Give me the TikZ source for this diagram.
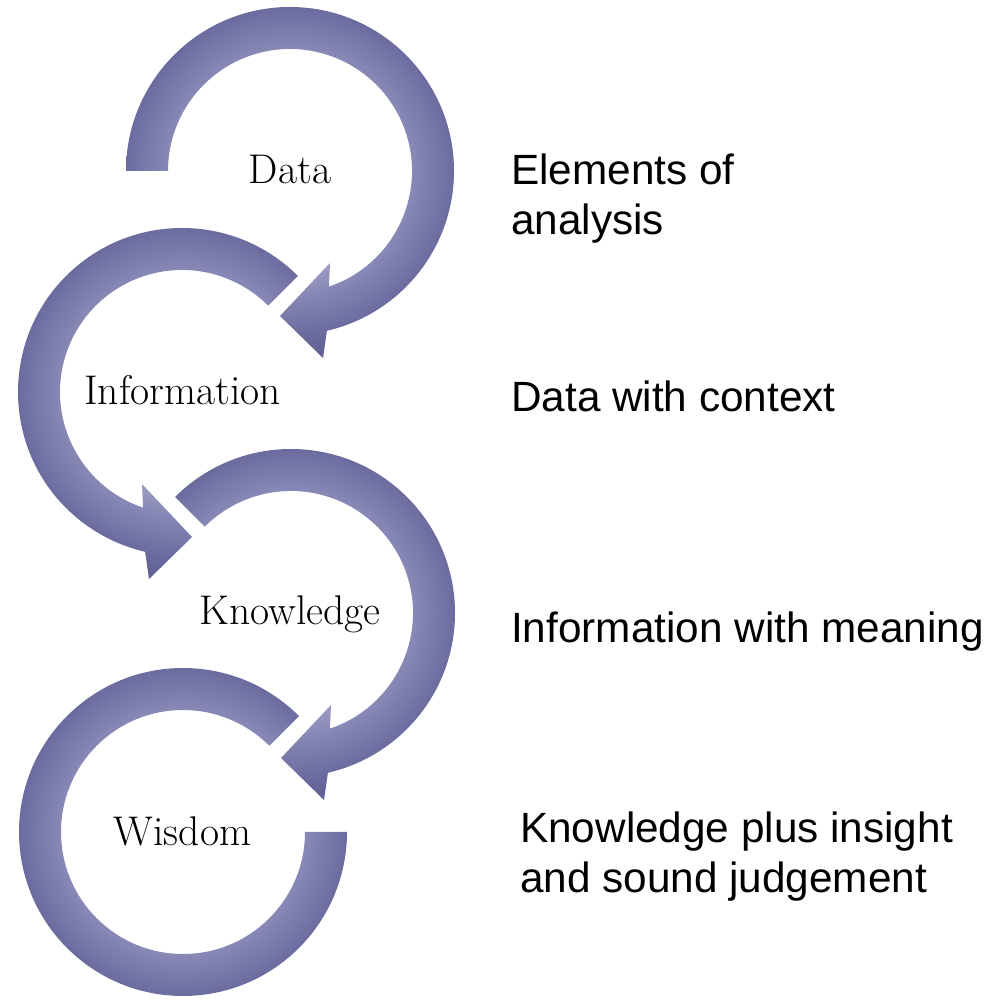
\documentclass[tikz,border=0pt]{standalone}
\usepackage{fontspec}
\newfontfamily\rsans{Liberation Sans}
\definecolor{ringlt}{HTML}{9C9CC4}
\definecolor{ringmd}{HTML}{8989B7}
\definecolor{ringdk}{HTML}{6B6B9F}
\definecolor{ringdkk}{HTML}{5E5E93}
\pgfdeclareradialshading{ringshade}{\pgfpoint{0bp}{0bp}}{color(0bp)=(ringlt); color(12.5bp)=(ringlt); color(15.25bp)=(ringmd); color(20.5bp)=(ringdk); color(23.75bp)=(ringdkk); color(50bp)=(ringdkk)}
\tikzset{
  lbl/.style={inner sep=0pt, anchor=base, font=\fontsize{41.5}{48}\selectfont},
  rtxt/.style={inner sep=0pt, anchor=base west, font=\rsans\fontsize{42.3}{50}\selectfont},
}
\newcommand{\ringfill}[1]{%
  \begin{scope}
    \clip #1;
    \shade[shading=ringshade] (0,0) circle (200);
  \end{scope}}
\begin{document}
\begin{tikzpicture}[x=1pt,y=1pt]
\useasboundingbox (0,0) rectangle (998,1000);
% Data ring
\begin{scope}[shift={(290,829)}]
  \ringfill{(180:164) arc[start angle=180,end angle=-77,radius=164] -- (33,-187) -- (-10,-145) -- (40,-92) -- (-71.4:122) arc[start angle=-71.4,end angle=180,radius=122] -- cycle}
\end{scope}
% Information ring
\begin{scope}[shift={(182,608)}]
  \ringfill{(45:164) arc[start angle=45,end angle=257,radius=164] -- (-33,-187) -- (10,-145) -- (-40,-92) -- (251.4:122) arc[start angle=251.4,end angle=45,radius=122] -- cycle}
\end{scope}
% Knowledge ring
\begin{scope}[shift={(291,387)}]
  \ringfill{(135:164) arc[start angle=135,end angle=-77,radius=164] -- (33,-187) -- (-10,-145) -- (40,-92) -- (-71.4:122) arc[start angle=-71.4,end angle=135,radius=122] -- cycle}
\end{scope}
% Wisdom ring
\begin{scope}[shift={(183,168)}]
  \ringfill{(45:164) arc[start angle=45,end angle=360,radius=164] -- (0:122) arc[start angle=360,end angle=45,radius=122] -- cycle}
\end{scope}
% labels
\node[lbl] (data) at (290,816) {Data};
\node[lbl] (info) at (182.5,595) {Information};
\node[lbl] (know) at (290,375) {Knowledge};
\node[lbl] (wis) at (182.5,154) {Wisdom};
% descriptions
\node[rtxt] (d1) at (511,815) {Elements of};
\node[rtxt] (d2) at (511,765) {analysis};
\node[rtxt] (i1) at (511,588) {Data with context};
\node[rtxt] (k1) at (511,357) {Information with meaning};
\node[rtxt] (w1) at (520,157) {Knowledge plus insight};
\node[rtxt] (w2) at (520,107) {and sound judgement};
\end{tikzpicture}
\end{document}
